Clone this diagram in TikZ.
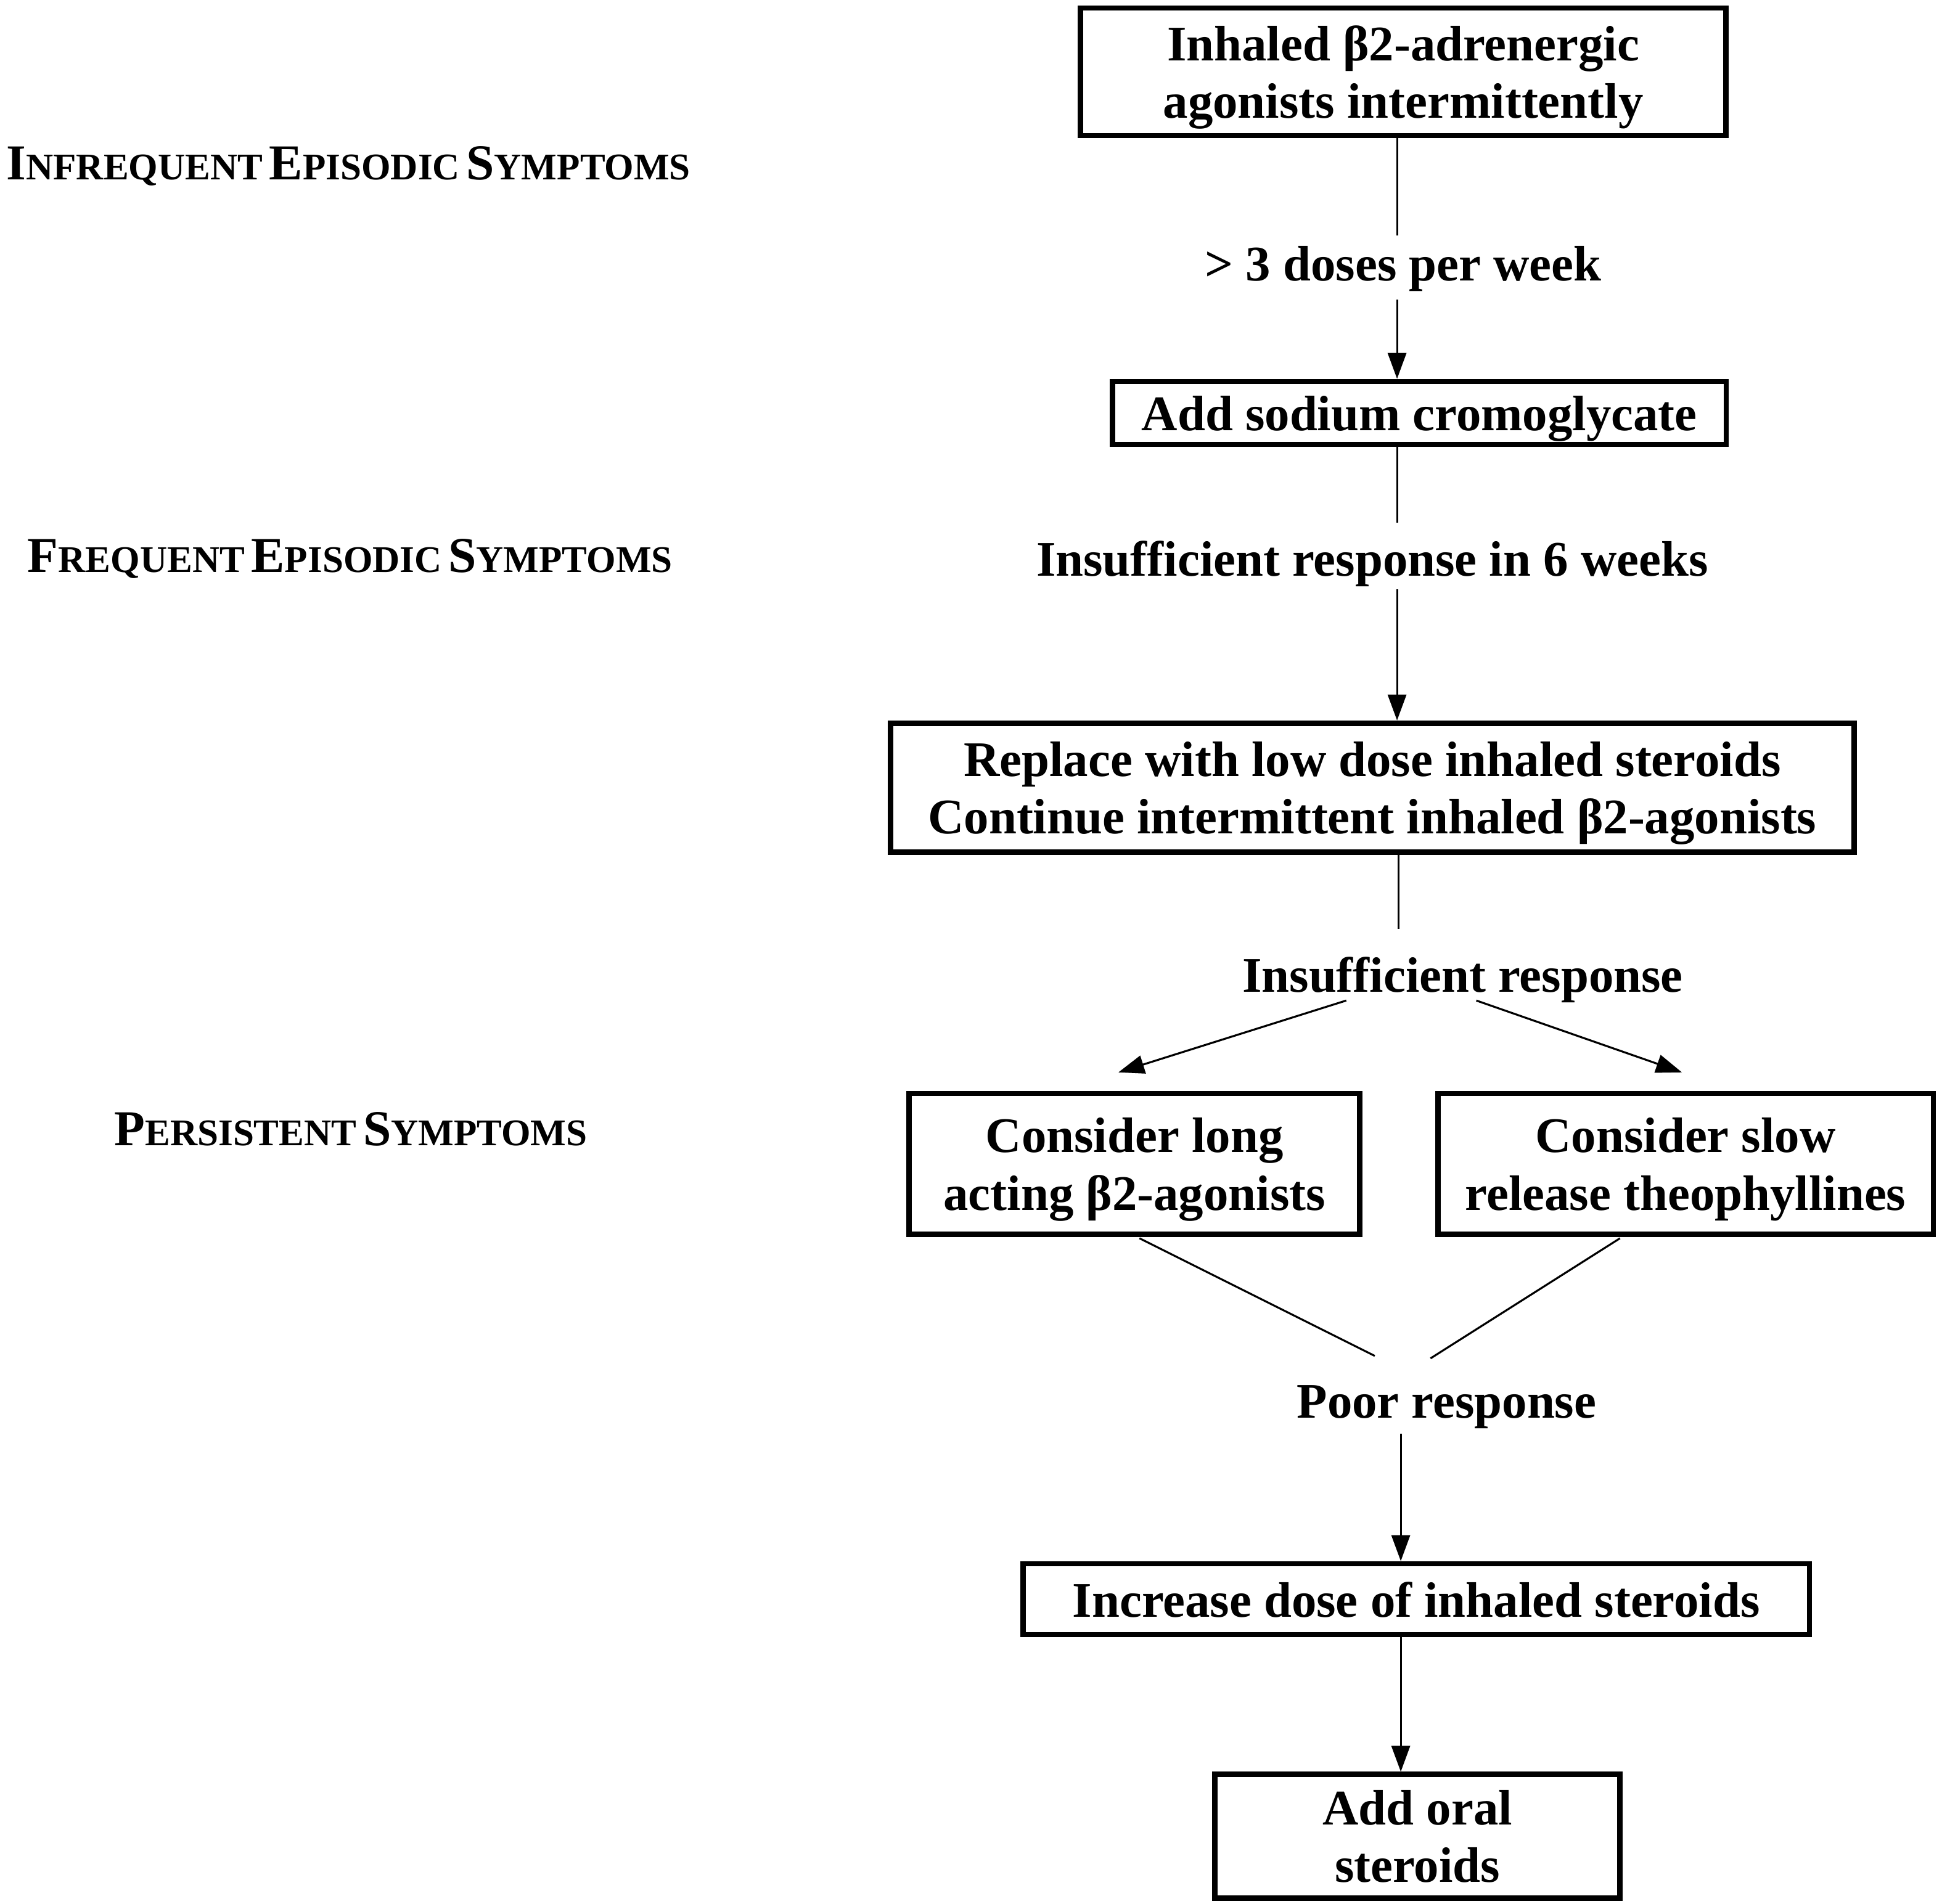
\documentclass[tikz,border=0pt]{standalone}
\usepackage{fontspec}
\setmainfont{Liberation Serif}
\usetikzlibrary{arrows.meta}
\newcommand\mytxt{\fontsize{23}{26.5}\selectfont\bfseries}
\newcommand\myscap[2]{{\fontsize{23.2}{26}\selectfont #1}{\fontsize{17.4}{20}\selectfont #2}}
\begin{document}
\begin{tikzpicture}[x=0.02009cm, y=-0.02009cm,
  box/.style={draw, line width=2.5pt, inner sep=0pt, align=center, font=\mytxt, text depth=0pt},
  lab/.style={inner sep=0pt, align=center, font=\mytxt, text depth=0pt},
  side/.style={inner sep=0pt, anchor=west, font=\bfseries},
  conn/.style={line width=0.9pt},
  arr/.style={conn, -{Triangle[length=0.42cm, width=0.3cm]}}]
\useasboundingbox (0,0) rectangle (1568,1537.6);
\fill[white] (0,0) rectangle (1568,1537.6);

% side labels
\node[side] (s1) at (5,134) {\myscap{I}{NFREQUENT}\hspace{0.3em}\myscap{E}{PISODIC}\hspace{0.3em}\myscap{S}{YMPTOMS}};
\node[side] (s2) at (22,451) {\myscap{F}{REQUENT}\hspace{0.3em}\myscap{E}{PISODIC}\hspace{0.3em}\myscap{S}{YMPTOMS}};
\node[side] (s3) at (92,912) {\myscap{P}{ERSISTENT}\hspace{0.3em}\myscap{S}{YMPTOMS}};

% boxes
\node[box, minimum width=10.47cm, minimum height=2.07cm] (b1) at (1133,58) {Inhaled β2-adrenergic\\agonists intermittently};
\node[box, minimum width=9.96cm, minimum height=1.02cm] (b2) at (1146,333.5) {Add sodium cromoglycate};
\node[box, minimum width=15.63cm, minimum height=2.09cm] (b3) at (1108,636) {Replace with low dose inhaled steroids\\Continue intermittent inhaled β2-agonists};
\node[box, minimum width=7.31cm, minimum height=2.29cm] (b4) at (916,940) {Consider long\\acting β2-agonists};
\node[box, minimum width=8.04cm, minimum height=2.29cm] (b5) at (1361,940) {Consider slow\\release theophyllines};
\node[box, minimum width=12.76cm, minimum height=1.15cm] (b6) at (1143.5,1291.5) {Increase dose of inhaled steroids};
\node[box, minimum width=6.57cm, minimum height=2.01cm] (b7) at (1144.5,1483) {Add oral\\steroids};

% connector labels
\node[lab] (l1) at (1133,213) {> 3 doses per week};
\node[lab] (l2) at (1108,451) {Insufficient response in 6 weeks};
\node[lab] (l3) at (1181,787) {Insufficient response};
\node[lab] (l4) at (1168,1132) {Poor response};

% connector end points
\coordinate (a1) at (1128,190);
\coordinate (a2) at (1128,242);
\coordinate (a3) at (1128,422);
\coordinate (a4) at (1128,476);
\coordinate (a5) at (1129,750);
\coordinate (a6) at (1087,808);
\coordinate (a7) at (1192,808);
\coordinate (a8) at (903,866);
\coordinate (a9) at (1358,866);
\coordinate (a10) at (920,1000);
\coordinate (a11) at (1110,1095);
\coordinate (a12) at (1308,1000);
\coordinate (a13) at (1155,1097);
\coordinate (a14) at (1131,1158);

% connectors
\draw[conn] (b1.south -| a1) -- (a1);
\draw[arr] (a2) -- (b2.north -| a2);
\draw[conn] (b2.south -| a3) -- (a3);
\draw[arr] (a4) -- (b3.north -| a4);
\draw[conn] (b3.south -| a5) -- (a5);
\draw[arr] (a6) -- (a8);
\draw[arr] (a7) -- (a9);
\draw[conn] (a10) -- (a11);
\draw[conn] (a12) -- (a13);
\draw[arr] (a14) -- (b6.north -| a14);
\draw[arr] (b6.south -| a14) -- (b7.north -| a14);
\end{tikzpicture}
\end{document}
